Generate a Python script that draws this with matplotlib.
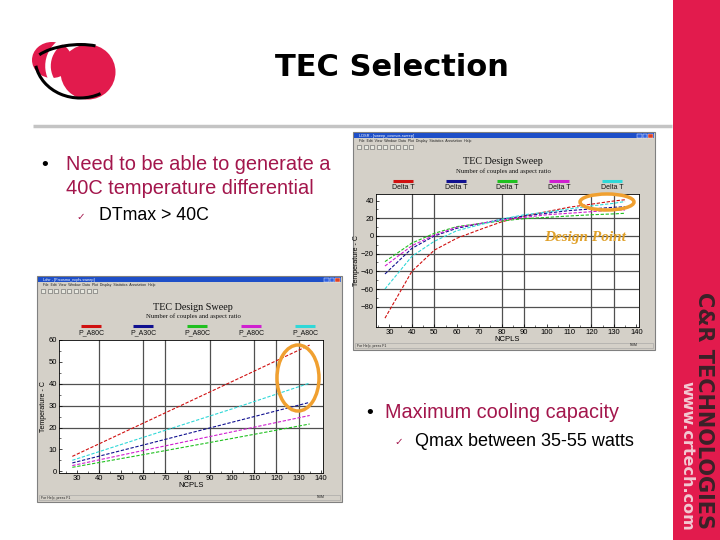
import numpy as np
import matplotlib.pyplot as plt
from matplotlib.patches import Rectangle, Ellipse, Circle, Arc

W, H = 720, 540

# upper right screenshot: Delta T vs NCPLS
ncpls_top = [28, 40, 50, 60, 70, 80, 90, 100, 110, 120, 130, 135]
dt_red = [-93, -40, -16, -2.6, 7, 16, 22.6, 27.5, 32.5, 36, 39.6, 41]
dt_blue = [-43, -14, 0, 8.7, 13.6, 19, 22.6, 25.7, 28.7, 30.6, 32.5, 33]
dt_green = [-29, -8, 3, 10.6, 14, 17, 19.6, 21, 22.6, 24, 25, 25.7]
dt_magenta = [-34, -11, 1, 10, 14, 18, 21, 24, 25.7, 27.5, 29.4, 29.4]
dt_cyan = [-60, -23, -6, 6, 12.5, 19, 24, 27, 30.6, 34, 37, 39]
top_labels = ["Delta T"] * 5

# lower left screenshot: temperature vs NCPLS (straight)
ncpls_bot = [28, 60, 100, 135]
t_red = [6.8, 22.0, 41.0, 57.7]
t_blue = [3.8, 12.0, 22.4, 31.5]
t_green = [1.8, 7.6, 15.0, 21.6]
t_magenta = [2.6, 9.5, 18.0, 25.5]
t_cyan = [5.0, 15.5, 28.5, 40.3]
bot_labels = ["P_A80C", "P_A30C", "P_A80C", "P_A80C", "P_A80C"]

colors = ["#d01010", "#101090", "#20c020", "#d020d0", "#30d8d8"]
crimson = "#e21b4d"
orange = "#f0a030"
maroon = "#a3164c"

plt.rcParams['font.family'] = ['Liberation Sans', 'DejaVu Sans']
fig = plt.figure(figsize=(7.2, 5.4), dpi=100)
bg = fig.add_axes([0, 0, 1, 1])
bg.set_xlim(0, W)
bg.set_ylim(H, 0)
bg.axis('off')


def fig_rect(x0, y0, x1, y1):
    return [x0 / W, 1 - y1 / H, (x1 - x0) / W, (y1 - y0) / H]


def draw_window(x0, y0, x1, y1, wtitle):
    bg.add_patch(Rectangle((x0, y0), x1 - x0, y1 - y0, fc="#d4d0c8", ec="#808080", lw=0.8))
    bg.add_patch(Rectangle((x0 + 1, y0 + 1), x1 - x0 - 2, 5, fc="#1e4fc8", ec="none"))
    bg.text(x0 + 6, y0 + 3.5, wtitle, fontsize=2.8, color="white", va="center")
    for i, c in enumerate(["#3060e0", "#3060e0", "#e04020"]):
        bg.add_patch(Rectangle((x1 - 18 + i * 5.5, y0 + 1.5), 4.5, 4, fc=c, ec="white", lw=0.3))
    bg.text(x0 + 6, y0 + 9, "File  Edit  View  Window  Data  Plot  Display  Statistics  Annotation  Help",
            fontsize=2.5, color="#222222", va="center")
    # toolbar buttons
    for i in range(9):
        bg.add_patch(Rectangle((x0 + 4 + i * 6.5, y0 + 13), 4, 4, fc="#e8e8e0", ec="#606060", lw=0.4))
    bg.add_patch(Rectangle((x0 + 2, y1 - 7), x1 - x0 - 4, 5, fc="#d4d0c8", ec="#a0a0a0", lw=0.4))
    bg.text(x0 + 4, y1 - 4.5, "For Help, press F1", fontsize=2.5, color="#222222", va="center")
    bg.text(x1 - 25, y1 - 4.5, "NUM", fontsize=2.5, color="#222222", va="center")


def draw_chart(ax, x, series, labels, xlim, ylim, yticks, vgrid, hgrid,
               title_xy, leg_y, leg_xs, step):
    ax.set_facecolor("white")
    for gx in vgrid:
        ax.axvline(gx, color="#505050", lw=0.9, zorder=1)
    for gy in hgrid:
        ax.axhline(gy, color="#505050", lw=0.9, zorder=1)
    for ys, c in zip(series, colors):
        ax.plot(x, ys, color=c, lw=0.8, ls=(0, (3, 1.5)), zorder=2)
    ax.set_xlim(*xlim)
    ax.set_ylim(*ylim)
    ax.set_xticks(np.arange(30, 141, 10))
    ax.set_yticks(yticks)
    ax.set_xticks(np.arange(25, 141, 5), minor=True)
    ax.set_yticks(np.arange(yticks[0], yticks[-1] + 1, step / 2), minor=True)
    ax.tick_params(labelsize=5.5, length=2.5, width=0.5, pad=1.5, direction="in")
    ax.tick_params(which="minor", length=1.5, width=0.4, direction="in")
    for s in ax.spines.values():
        s.set_linewidth(0.6)
    ax.set_xlabel("NCPLS", fontsize=5.5, labelpad=0)
    ax.set_ylabel("Temperature - C", fontsize=5, labelpad=1)
    tx, ty = title_xy
    bg.text(tx, ty, "TEC Design Sweep", fontsize=7.3, family="Liberation Serif",
            ha="center", va="center", color="#111111")
    bg.text(tx, ty + 9, "Number of couples and aspect ratio", fontsize=4.8,
            family="Liberation Serif", ha="center", va="center", color="#111111")
    for lx, c, lab in zip(leg_xs, colors, labels):
        bg.plot([lx - 10, lx + 10], [leg_y, leg_y], color=c, lw=2.2, solid_capstyle="butt")
        bg.text(lx, leg_y + 6.5, lab, fontsize=5, ha="center", va="center", color="#111111")


# slide frame: title, logo, rule, red side band
bg.text(392, 68, "TEC Selection", fontsize=22, fontweight="bold", family="DejaVu Sans",
        ha="center", va="center")
bg.plot([33, 672], [125.5, 125.5], color="#c4c4c4", lw=2.5, solid_capstyle="butt")
bg.add_patch(Rectangle((673, 0), 47, H, fc=crimson, ec="none"))
bg.text(704.5, 410, "C&R TECHNOLOGIES", rotation=-90, fontsize=15, fontweight="bold",
        family="DejaVu Sans", color="#3a2228", ha="center", va="center")
bg.text(687, 456, "www.crtech.com", rotation=-90, fontsize=11.5, fontweight="bold",
        family="DejaVu Sans", color="#f2cad3", ha="center", va="center")

# logo
bg.add_patch(Ellipse((52, 60), 40, 36, fc=crimson, ec="none"))
bg.add_patch(Arc((80, 66), 64, 60, theta1=150, theta2=250, color="white", lw=4))
bg.add_patch(Circle((88, 72), 27.5, fc=crimson, ec="none"))
bg.add_patch(Arc((72, 60), 78, 30, theta1=195, theta2=335, angle=-6, color="black", lw=2.2))
bg.add_patch(Arc((80, 58), 90, 80, theta1=60, theta2=170, color="black", lw=2.2))

# bullets
bg.text(45, 166, "\u2022", fontsize=14, ha="center", va="center")
bg.text(66, 165, "Need to be able to generate a", fontsize=14.4, color=maroon, va="center")
bg.text(66, 188, "40C temperature differential", fontsize=14.4, color=maroon, va="center")
bg.text(81, 217, "\u2713", fontsize=7.5, color=maroon, ha="center", va="center", family="DejaVu Sans")
bg.text(99, 216, "DTmax > 40C", fontsize=12.8, va="center")

bg.text(370, 414, "\u2022", fontsize=14, ha="center", va="center")
bg.text(385, 413, "Maximum cooling capacity", fontsize=14.3, color=maroon, va="center")
bg.text(399, 442, "\u2713", fontsize=7.5, color=maroon, ha="center", va="center", family="DejaVu Sans")
bg.text(415, 441, "Qmax between 35-55 watts", fontsize=13, va="center")

# upper right window
draw_window(353, 132, 655, 350, "LDSR - [sweep_cosmos.sweep]")
ax1 = fig.add_axes(fig_rect(376, 194, 639, 327))
draw_chart(ax1, ncpls_top, [dt_red, dt_blue, dt_green, dt_magenta, dt_cyan], top_labels,
           (24, 141.2), (-103, 47.5), np.arange(-80, 41, 20), [40, 50, 80, 90, 120, 130],
           [-80, -60, -40, -20, 0, 20], (503, 162), 181, [403, 456, 507, 559, 612], 20)

# lower left window
draw_window(37, 276, 342, 502, "Ldsr - [Frcosmo_ncpls.sweep]")
ax2 = fig.add_axes(fig_rect(59, 340, 323, 473))
draw_chart(ax2, ncpls_bot, [t_red, t_blue, t_green, t_magenta, t_cyan], bot_labels,
           (22, 141), (-0.8, 60), np.arange(0, 61, 10), [40, 60, 70, 90, 110, 120, 130],
           [20, 30, 40], (193, 307), 326, [91, 143, 197, 251, 305], 10)

# overlay: highlight ellipses and note
ov = fig.add_axes([0, 0, 1, 1], zorder=10)
ov.set_xlim(0, W)
ov.set_ylim(H, 0)
ov.axis('off')
ov.patch.set_alpha(0)
ov.add_patch(Ellipse((607, 202), 54, 16, fc="none", ec=orange, lw=2.5))
ov.add_patch(Ellipse((298, 378), 42, 66, fc="none", ec=orange, lw=2.5))
ov.text(585, 237, "Design Point", fontsize=11, family="Liberation Serif", style="italic",
        fontweight="bold", color="#e0a028", ha="center", va="center")

fig.savefig("out.png", dpi=100)
